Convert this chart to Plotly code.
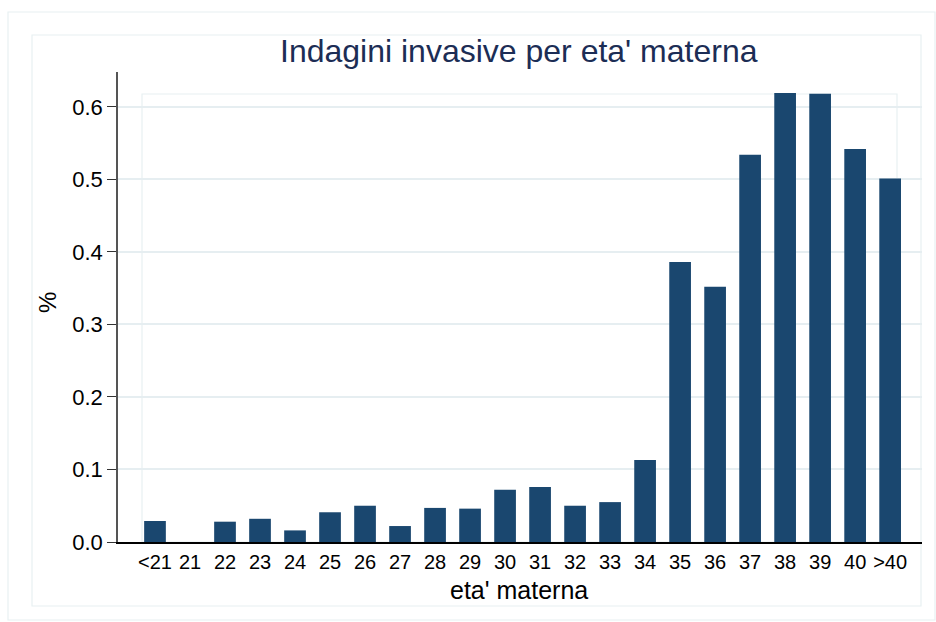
import plotly.graph_objects as go

categories = ["<21", "21", "22", "23", "24", "25", "26", "27", "28", "29", "30",
              "31", "32", "33", "34", "35", "36", "37", "38", "39", "40", ">40"]
values = [0.029, 0.0, 0.028, 0.032, 0.016, 0.041, 0.050, 0.022, 0.047, 0.046, 0.072,
          0.076, 0.050, 0.055, 0.113, 0.386, 0.352, 0.534, 0.619, 0.618, 0.542, 0.501]
y_ticks = [0.0, 0.1, 0.2, 0.3, 0.4, 0.5, 0.6]
y_tick_labels = ["0.0", "0.1", "0.2", "0.3", "0.4", "0.5", "0.6"]

W, H = 936, 622
L, R, T, B = 118, 922, 72, 542  # plot area in pixels


def px(x):
    return (x - L) / (R - L)


def py(y):
    return (B - y) / (B - T)


x_idx = list(range(len(categories)))

fig = go.Figure()
fig.add_trace(go.Bar(
    x=x_idx, y=values, width=0.62,
    marker=dict(color="#1a476f", line=dict(width=0)),
    hoverinfo="x+y",
))

box_col = "#e8f0f2"
shapes = [
    dict(type="rect", xref="paper", yref="paper", x0=px(8), x1=px(935), y0=py(620), y1=py(12),
         line=dict(color=box_col, width=1.2), layer="below"),
    dict(type="rect", xref="paper", yref="paper", x0=px(32), x1=px(921), y0=py(606), y1=py(35),
         line=dict(color=box_col, width=1.2), layer="below"),
    dict(type="rect", xref="paper", yref="paper", x0=px(142), x1=px(897), y0=py(542), y1=py(94),
         line=dict(color=box_col, width=1.2), layer="below"),
]

fig.update_layout(
    width=W, height=H,
    margin=dict(l=L, r=W - R, t=T, b=H - B),
    paper_bgcolor="white", plot_bgcolor="white",
    font=dict(family="Liberation Sans, Arial, sans-serif", color="black"),
    showlegend=False,
    shapes=shapes,
    xaxis=dict(
        range=[-1.057, 21.91],
        tickmode="array", tickvals=x_idx, ticktext=categories,
        showgrid=False, zeroline=False,
        showline=True, linecolor="black", linewidth=1.5,
        ticks="outside", ticklen=1, tickcolor="rgba(0,0,0,0)",
        tickfont=dict(size=20, color="black"),
        fixedrange=True,
    ),
    yaxis=dict(
        range=[0, 0.648],
        tickmode="array", tickvals=y_ticks, ticktext=y_tick_labels,
        showgrid=True, gridcolor="#e6eef1", gridwidth=1.5,
        zeroline=False,
        showline=True, linecolor="#555555", linewidth=1.5,
        ticks="outside", ticklen=9, tickcolor="#333333", tickwidth=1.2,
        tickfont=dict(size=22, color="black"),
        fixedrange=True,
    ),
    annotations=[
        dict(text="Indagini invasive per eta' materna", xref="paper", yref="paper",
             x=px(519), y=py(51), xanchor="center", yanchor="middle", showarrow=False,
             font=dict(size=32, color="#1c2d55")),
        dict(text="eta' materna", xref="paper", yref="paper",
             x=px(519), y=py(590), xanchor="center", yanchor="middle", showarrow=False,
             font=dict(size=25, color="black")),
        dict(text="%", xref="paper", yref="paper", textangle=-90,
             x=px(47), y=py(303), xanchor="center", yanchor="middle", showarrow=False,
             font=dict(size=24, color="black")),
    ],
)

fig.write_html("out.html", config={"displayModeBar": False},
               post_script="document.body.style.margin='0px';")
